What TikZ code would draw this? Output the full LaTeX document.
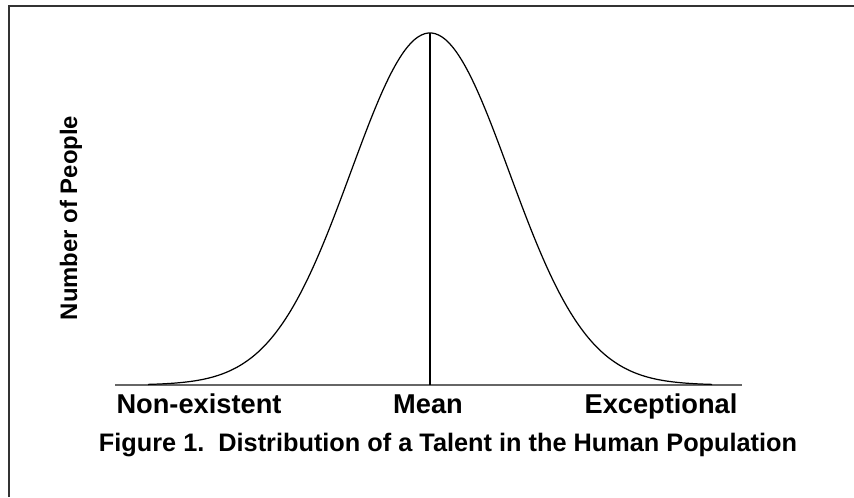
\documentclass[tikz,border=0pt]{standalone}
\usepackage{fontspec}
\setmainfont{Liberation Sans}
\begin{document}
\begin{tikzpicture}[x=0.02cm, y=-0.02cm,
    lbl/.style={font=\fontsize{15.5}{18}\selectfont\bfseries, inner sep=0pt},
    ylbl/.style={font=\fontsize{13.6}{16}\selectfont\bfseries, inner sep=0pt},
    figlbl/.style={font=\fontsize{14.4}{17}\selectfont\bfseries, inner sep=0pt}]
          \useasboundingbox (0,0) rectangle (854,497);
          \draw[line width=1.2pt, black!80] (9,497) -- (9,6) -- (854,6);
          
          \coordinate (axL) at (115,385);
          \coordinate (axR) at (742,385);
          \coordinate (top) at (430,33);
          \coordinate (bot) at (430,385);
          
          \draw[black!60, line width=0.8pt] (axL) -- (axR);
          \draw[line width=0.7pt] plot[domain=148:712, samples=160, smooth] (\x, {385-352*exp(-((\x-430)/79)^2/2)});
          \draw[line width=0.7pt] (bot) -- (top);
          
          \node[lbl, anchor=base] (lo) at (199,413) {Non-existent};
          \node[lbl, anchor=base] (mid) at (428,413) {Mean};
          \node[lbl, anchor=base] (hi) at (661,413) {Exceptional};
          \node[ylbl, anchor=base, rotate=90] (ylab) at (77,218) {Number of People};
          \node[figlbl, anchor=base] (capt) at (448,451) {Figure 1.\ \ Distribution of a Talent in the Human Population};
        \end{tikzpicture}
\end{document}
